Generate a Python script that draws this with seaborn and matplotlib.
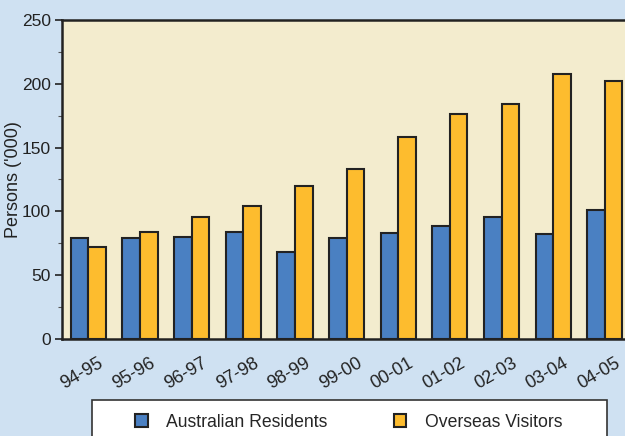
import numpy as np
import pandas as pd
import matplotlib
matplotlib.use("Agg")
import matplotlib.pyplot as plt
import matplotlib.transforms as mtransforms
from matplotlib.patches import Rectangle
from matplotlib.ticker import MultipleLocator
import seaborn as sns

years = ['94-95', '95-96', '96-97', '97-98', '98-99', '99-00',
         '00-01', '01-02', '02-03', '03-04', '04-05']
residents = [79, 79, 80, 84, 68, 79.5, 83, 88.5, 95.5, 82, 101]
visitors = [72, 84, 95.5, 104, 120, 133, 158, 176, 184, 207.5, 202]
series = ['Australian Residents', 'Overseas Visitors']
colors = ['#4a80c2', '#fdbc2e']

df = pd.DataFrame({
    'year': years * 2,
    'value': residents + visitors,
    'series': [series[0]] * len(years) + [series[1]] * len(years),
})

sns.set_style("white")
plt.rcParams['font.family'] = ['Liberation Sans', 'DejaVu Sans']

fig = plt.figure(figsize=(6.25, 4.36), dpi=100)
fig.patch.set_facecolor('#cfe1f2')
ax = fig.add_axes([0.0992, 0.2225, 0.9008, 0.7317])
ax.set_facecolor('#f3ecce')

sns.barplot(data=df, x='year', y='value', hue='series', palette=colors,
            saturation=1, width=0.68, edgecolor='#222222', linewidth=1.5, ax=ax)

handles, labels = ax.get_legend_handles_labels()
ax.get_legend().remove()

ax.set_ylim(0, 250)
ax.set_xlim(-0.51, 10.39)
ax.yaxis.set_major_locator(MultipleLocator(50))
ax.yaxis.set_minor_locator(MultipleLocator(25))
ax.tick_params(axis='y', which='major', length=5, width=1.2, color='#222222',
               labelsize=12.5, labelcolor='#222222', left=True, pad=3)
ax.tick_params(axis='y', which='minor', length=3, width=0.8, color='#555555', left=True)
ax.tick_params(axis='x', length=0, labelsize=13, labelcolor='#222222', pad=11)

for lbl in ax.get_xticklabels():
    lbl.set_rotation(30)
    lbl.set_ha('right')
    lbl.set_rotation_mode('anchor')
    lbl.set_transform(lbl.get_transform() +
                      mtransforms.ScaledTranslation(7 / 72, 0, fig.dpi_scale_trans))

ax.set_xlabel('')
ax.set_ylabel("Persons ('000)", fontsize=13, color='#222222')
ax.yaxis.set_label_coords(-0.071, 0.5)

for side in ['top', 'left', 'bottom']:
    ax.spines[side].set_color('#222222')
    ax.spines[side].set_linewidth(1.8)
ax.spines['right'].set_visible(False)

# legend box
fig.patches.append(Rectangle((0.147, -0.05), 0.824, 0.1326, transform=fig.transFigure,
                             facecolor='white', edgecolor='#333333', linewidth=1.2,
                             zorder=0))
fig.legend(handles, labels, loc='center left', bbox_to_anchor=(0.216, 0.0321),
           ncol=2, frameon=False, fontsize=12.7, borderpad=0, borderaxespad=0,
           handlelength=0.72, handleheight=0.72, handletextpad=1.05,
           columnspacing=3.75)

fig.savefig('out.png', dpi=100, facecolor=fig.get_facecolor())
